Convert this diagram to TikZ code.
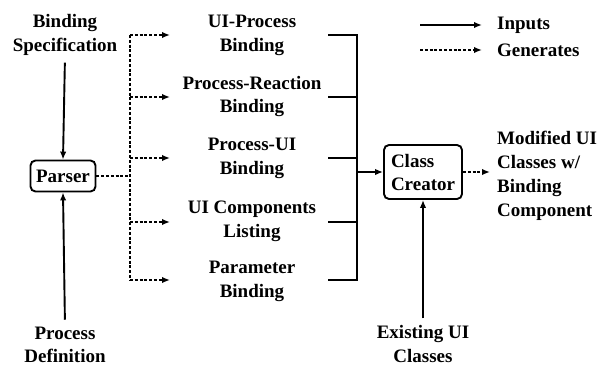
\documentclass[tikz,border=0pt]{standalone}
\usepackage{fontspec}
\setmainfont{Liberation Serif}
\usetikzlibrary{arrows.meta,calc}
\begin{document}
\begin{tikzpicture}[x=1pt,y=-1pt,
 txt/.style={font=\bfseries\fontsize{19}{23.5}\selectfont, align=center, inner sep=0pt},
 ltxt/.style={txt, align=left, anchor=west},
 box/.style={draw, line width=1.9pt, rounded corners=5pt, font=\bfseries\fontsize{19}{23}\selectfont, inner sep=0pt},
 tip/.style={-{Latex[length=8pt,width=6.5pt]}},
 inp/.style={line width=1.9pt, tip},
 gen/.style={line width=1.7pt, dash pattern=on 3pt off 1.8pt, tip},
 gline/.style={line width=1.7pt, dash pattern=on 3pt off 1.8pt},
 link/.style={line width=1.9pt}]
\path[use as bounding box] (0,0) rectangle (602,367);

% left column
\node[txt] (bs) at (65,35) {Binding\\Specification};
\node[box, minimum width=65pt, minimum height=31pt] (parser) at (63,176) {Parser};
\node[txt] (pd) at (65,345) {Process\\Definition};
\draw[inp, shorten <=7pt] (bs.south) -- (parser.north);
\draw[inp, shorten <=7pt] (pd.north) -- (parser.south);

% generated bindings
\node[txt] (l1) at (252,35.5) {UI-Process\\Binding};
\node[txt] (l2) at (252,96.5) {Process-Reaction\\Binding};
\node[txt] (l3) at (252,158.5) {Process-UI\\Binding};
\node[txt] (l4) at (252,221.5) {UI Components\\Listing};
\node[txt] (l5) at (252,281.5) {Parameter\\Binding};

\coordinate (bt) at (130,35);
\coordinate (bb) at (130,280);
\coordinate (bm) at (130,176);
\coordinate (tx) at (170,0);
\draw[gline] (parser.east) -- (bm);
\draw[gline] (bt) -- (bb);
\foreach \y [count=\i] in {35,97,158,222,280}{
  \coordinate (g\i) at (130,\y);
  \draw[gen] (g\i) -- (g\i -| tx);
}

% collecting lines
\coordinate (rx) at (328,0);
\coordinate (ct) at (357,35);
\coordinate (cb) at (357,280);
\coordinate (cm) at (357,172);
\foreach \y [count=\i] in {35,97,158,222,280}{
  \coordinate (c\i) at (357,\y);
  \draw[link] (c\i -| rx) -- (c\i);
}
\draw[link, line cap=rect] (ct) -- (cb);

% class creator
\node[box, minimum width=78pt, minimum height=54pt, align=left] (cc) at (423,172) {Class\\Creator};
\draw[inp] (cm) -- (cc.west);
\node[txt] (eu) at (423,344) {Existing UI\\Classes};
\draw[inp, shorten <=7pt] (eu.north) -- (cc.south);

\coordinate (oe) at (490,172);
\draw[gen] (cc.east) -- (oe);
\node[ltxt, font=\bfseries\fontsize{19}{24}\selectfont] (out) at (497,176) {Modified UI\\Classes w/\\Binding\\Component};

% legend
\node[ltxt] (inputs) at (497,25) {Inputs};
\node[ltxt] (gens) at (497,50) {Generates};
\coordinate (li) at (420,25);
\coordinate (lg) at (420,50);
\draw[inp] (li) -- ([xshift=-15pt]inputs.west);
\draw[gen] (lg) -- ([xshift=-15pt]gens.west);
\end{tikzpicture}
\end{document}
